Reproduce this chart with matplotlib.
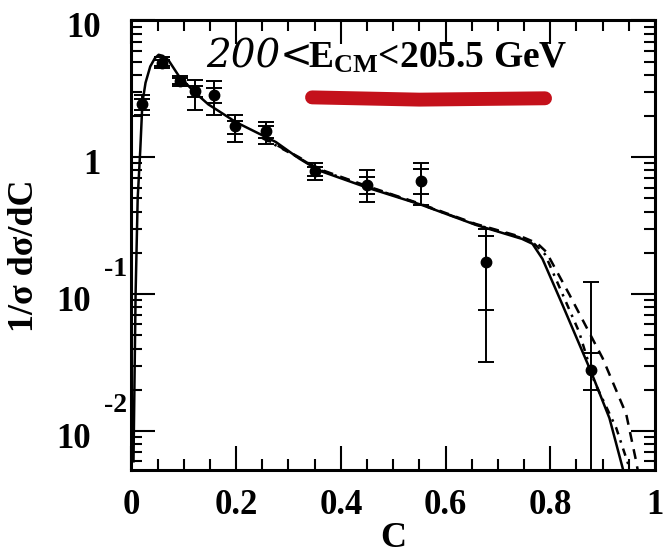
import matplotlib
matplotlib.use("Agg")
import matplotlib.pyplot as plt
import matplotlib.transforms as mtransforms
from matplotlib.ticker import FixedLocator, MultipleLocator, NullFormatter, LogLocator

plt.rcParams['font.family'] = ['Liberation Serif', 'DejaVu Serif']
plt.rcParams['font.weight'] = 'bold'
plt.rcParams['mathtext.fontset'] = 'custom'
plt.rcParams['mathtext.rm'] = 'Liberation Serif:bold'
plt.rcParams['mathtext.it'] = 'Liberation Serif:bold'
plt.rcParams['mathtext.bf'] = 'Liberation Serif:bold'

# ---------------- data ----------------
data_c = [0.020, 0.058, 0.092, 0.122, 0.158, 0.197, 0.258, 0.350, 0.450, 0.553, 0.677, 0.878]
data_y = [2.43, 4.90, 3.63, 3.07, 2.87, 1.68, 1.55, 0.79, 0.625, 0.67, 0.172, 0.028]
stat_hi = [2.64, 5.15, 3.80, 3.34, 3.20, 1.85, 1.70, 0.85, 0.715, 0.82, 0.266, 0.037]
stat_lo = [2.23, 4.65, 3.45, 2.73, 2.50, 1.48, 1.38, 0.73, 0.54, 0.54, 0.077, 0.020]
tot_hi = [2.87, 5.35, 3.95, 3.69, 3.60, 2.05, 1.80, 0.90, 0.80, 0.90, 0.300, 0.123]
tot_lo = [2.05, 4.45, 3.30, 2.23, 2.05, 1.29, 1.24, 0.68, 0.47, 0.45, 0.032, 0.0001]

solid_c = [0.004, 0.008, 0.012, 0.017, 0.021, 0.027, 0.036, 0.045, 0.052, 0.060, 0.071,
           0.090, 0.120, 0.147, 0.200, 0.276, 0.320, 0.358, 0.450, 0.553, 0.658, 0.746,
           0.766, 0.785, 0.823, 0.878, 0.913, 0.938, 0.955]
solid_y = [0.006, 0.10, 0.50, 1.14, 2.50, 3.50, 4.60, 5.30, 5.60, 5.50, 5.10,
           3.95, 3.00, 2.43, 1.80, 1.29, 0.98, 0.80, 0.60, 0.45, 0.32, 0.253,
           0.233, 0.181, 0.084, 0.027, 0.0124, 0.0054, 0.003]

dash_c = [0.250, 0.320, 0.358, 0.450, 0.553, 0.658, 0.750, 0.775, 0.792, 0.836, 0.900, 0.945, 0.964, 0.975]
dash_y = [1.40, 1.00, 0.82, 0.615, 0.455, 0.325, 0.258, 0.235, 0.204, 0.100, 0.034, 0.0133, 0.006, 0.0035]

dashdot_c = [0.250, 0.320, 0.358, 0.450, 0.553, 0.658, 0.748, 0.770, 0.790, 0.855, 0.884, 0.926, 0.951, 0.962]
dashdot_y = [1.38, 0.99, 0.81, 0.61, 0.452, 0.322, 0.255, 0.232, 0.195, 0.053, 0.023, 0.0105, 0.0054, 0.0035]

x_ticks = [0, 0.2, 0.4, 0.6, 0.8, 1.0]
x_ticklabels = ['0', '0.2', '0.4', '0.6', '0.8', '1']
y_ticks = [0.01, 0.1, 1, 10]
y_ticklabels = ['10', '10', '1', '10']
y_exponents = {0.01: '-2', 0.1: '-1'}

title_hand = '200<'
title_text = r'E$_{\rm CM}$<205.5 GeV'

# ---------------- figure ----------------
fig = plt.figure(figsize=(6.67, 5.56), dpi=100)
ax = fig.add_axes([0.197, 0.155, 0.785, 0.809])
ax.set_yscale('log')
ax.set_xlim(0, 1)
ax.set_ylim(0.0052, 10.05)

lw = 1.8
ax.plot(solid_c, solid_y, color='black', lw=lw, solid_joinstyle='round', zorder=3)
ax.plot(dash_c, dash_y, color='black', lw=lw, linestyle=(0, (4, 3)), zorder=3)
ax.plot(dashdot_c, dashdot_y, color='black', lw=lw, linestyle=(0, (3, 2.5, 1, 2.5)), zorder=3)

# error bars: total (outer) and stat (inner)
err_tot = [[y - l for y, l in zip(data_y, tot_lo)], [h - y for y, h in zip(data_y, tot_hi)]]
err_stat = [[y - l for y, l in zip(data_y, stat_lo)], [h - y for y, h in zip(data_y, stat_hi)]]
ax.errorbar(data_c, data_y, yerr=err_tot, fmt='none', ecolor='black', elinewidth=1.4,
            capsize=6, capthick=1.4, zorder=4)
ax.errorbar(data_c, data_y, yerr=err_stat, fmt='none', ecolor='black', elinewidth=1.4,
            capsize=6, capthick=1.4, zorder=4)
ax.plot(data_c, data_y, 'o', color='black', ms=7.5, zorder=5)

# ticks
ax.xaxis.set_major_locator(FixedLocator(x_ticks))
ax.xaxis.set_minor_locator(MultipleLocator(0.05))
ax.set_xticklabels(x_ticklabels)
ax.yaxis.set_major_locator(FixedLocator(y_ticks))
ax.yaxis.set_minor_locator(LogLocator(base=10, subs=range(2, 10)))
ax.yaxis.set_minor_formatter(NullFormatter())
ax.set_yticklabels(y_ticklabels)

ax.tick_params(which='both', direction='in', top=True, right=True, width=1.5)
ax.tick_params(which='major', length=17)
ax.tick_params(which='minor', length=8)
ax.tick_params(axis='x', which='major', labelsize=25, pad=14)
ax.tick_params(axis='y', which='major', labelsize=25, pad=22)
for lab in ax.get_xticklabels() + ax.get_yticklabels():
    lab.set_fontweight('bold')
for sp in ax.spines.values():
    sp.set_linewidth(2.2)

# exponent labels for 10^-1, 10^-2 (raised, to the right of base "10")
trans = mtransforms.blended_transform_factory(ax.transAxes, ax.transData)
for val, ex in y_exponents.items():
    off = mtransforms.ScaledTranslation(-3 / 72, 18 / 72, fig.dpi_scale_trans)
    ax.text(0, val, ex, transform=trans + off, ha='right', va='center',
            fontsize=20, fontweight='bold')
for lab, val in zip(ax.get_yticklabels(), y_ticks):
    if val in y_exponents:
        lab.set_transform(lab.get_transform() + mtransforms.ScaledTranslation(-7 / 72, -3 / 72, fig.dpi_scale_trans))
    else:
        lab.set_transform(lab.get_transform() + mtransforms.ScaledTranslation(0, -3 / 72, fig.dpi_scale_trans))

ax.set_xlabel('C', fontsize=26, fontweight='bold', labelpad=0)
ax.set_ylabel('1/σ dσ/dC', fontsize=26, fontweight='bold')
ax.yaxis.set_label_coords(-0.172, 0.476)

# title annotation
ax.text(0.143, 0.895, title_hand, transform=ax.transAxes, fontsize=28,
        fontstyle='italic', fontweight='normal', family=['DejaVu Serif'], ha='left', va='baseline')
ax.text(0.338, 0.895, title_text, transform=ax.transAxes, fontsize=27,
        fontweight='bold', ha='left', va='baseline')
ax.plot([0.345, 0.55, 0.79], [0.828, 0.823, 0.826], transform=ax.transAxes,
        color='#c4111b', lw=10, solid_capstyle='round', zorder=6)

fig.savefig('out.png', dpi=100)
